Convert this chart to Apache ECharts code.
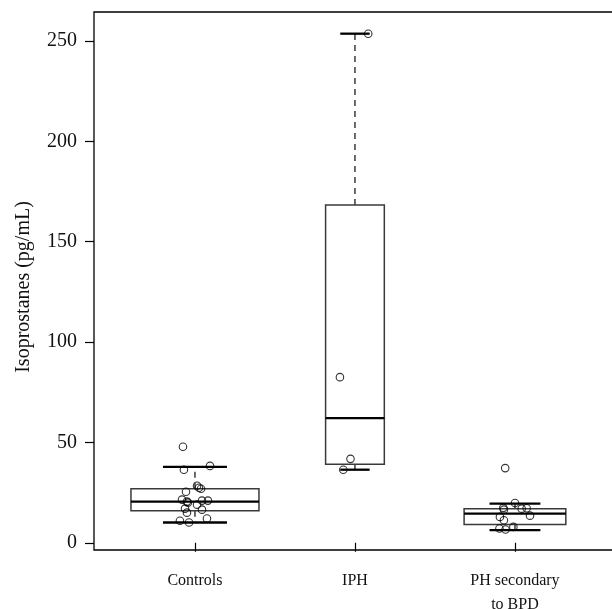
<!DOCTYPE html>
<html>
<head>
<meta charset="utf-8">
<script src="https://cdn.jsdelivr.net/npm/echarts@6/dist/echarts.min.js"></script>
<style>
  html, body { margin: 0; padding: 0; background: #fff; }
  #chart { width: 612px; height: 609px; }
</style>
</head>
<body>
<div id="chart"></div>
<script>
// groups on the x axis (placed at 1, 2, 3)
const groups = ['Controls', 'IPH', 'PH secondary\nto BPD'];
const yTicks = [0, 50, 100, 150, 200, 250];

// box statistics
const lowerWhisker = [10.1, 36.4, 6.3];
const q1 = [16.0, 39.1, 9.1];
const median = [20.5, 62.1, 14.5];
const q3 = [26.9, 168.2, 17.0];
const upperWhisker = [37.8, 253.6, 19.5];

// jittered raw points [x, value]
const controlsPts = [
  [0.925, 47.8], [0.931, 36.4], [1.094, 38.3], [1.013, 28.4], [1.025, 27.4],
  [1.038, 26.9], [0.944, 25.4], [0.919, 21.5], [0.95, 20.5], [0.956, 20.0],
  [1.044, 21.0], [1.081, 21.0], [1.013, 19.0], [0.938, 17.0], [0.95, 15.0],
  [1.044, 16.5], [0.906, 11.0], [0.963, 10.1], [1.075, 12.1]
];
const iphPts = [
  [2.083, 253.6], [1.906, 82.5], [1.972, 41.8], [1.927, 36.4]
];
const phPts = [
  [2.939, 37.2], [3.0, 19.8], [2.927, 17.4], [2.931, 16.5], [3.042, 17.0],
  [3.073, 17.2], [3.094, 13.5], [2.906, 12.9], [2.931, 11.2], [2.903, 7.1],
  [2.941, 6.6], [2.99, 7.9]
];

// varwidth: box width proportional to sqrt(n)
const counts = [controlsPts.length, iphPts.length, phPts.length];
const maxN = Math.max(...counts);

const boxData = groups.map((g, i) => [
  i + 1, lowerWhisker[i], q1[i], median[i], q3[i], upperWhisker[i],
  0.8 * Math.sqrt(counts[i] / maxN)
]);

const FONT = '"Liberation Serif", "DejaVu Serif", serif';

function renderBox(params, api) {
  const x = api.value(0);
  const hw = api.value(6) / 2;
  const lo = api.value(1), b1 = api.value(2), md = api.value(3), b3 = api.value(4), hi = api.value(5);
  const L = api.coord([x - hw, 0])[0];
  const R = api.coord([x + hw, 0])[0];
  const cl = api.coord([x - hw / 2, 0])[0];
  const cr = api.coord([x + hw / 2, 0])[0];
  const cx = api.coord([x, 0])[0];
  const y = v => api.coord([x, v])[1];
  const boxStyle = { stroke: '#3a3a3a', lineWidth: 1.5, fill: '#fff' };
  const dash = { stroke: '#3a3a3a', lineWidth: 1.5, lineDash: [6, 5] };
  const thick = { stroke: '#000', lineWidth: 2.3 };
  return {
    type: 'group',
    children: [
      { type: 'line', shape: { x1: cx, y1: y(b3), x2: cx, y2: y(hi) }, style: dash },
      { type: 'line', shape: { x1: cx, y1: y(b1), x2: cx, y2: y(lo) }, style: dash },
      { type: 'rect', shape: { x: L, y: y(b3), width: R - L, height: y(b1) - y(b3) }, style: boxStyle },
      { type: 'line', shape: { x1: L, y1: y(md), x2: R, y2: y(md) }, style: thick },
      { type: 'line', shape: { x1: cl, y1: y(hi), x2: cr, y2: y(hi) }, style: thick },
      { type: 'line', shape: { x1: cl, y1: y(lo), x2: cr, y2: y(lo) }, style: thick }
    ]
  };
}

const chart = echarts.init(document.getElementById('chart'), null, { renderer: 'canvas' });

const pointStyle = {
  type: 'scatter',
  symbol: 'circle',
  symbolSize: 7.5,
  z: 5,
  itemStyle: { color: 'rgba(0,0,0,0)', borderColor: '#000', borderWidth: 1.1 },
  silent: true
};

chart.setOption({
  animation: false,
  backgroundColor: '#fff',
  grid: {
    left: 94, top: 12, width: 540, height: 538,
    outerBoundsMode: 'none',
    containLabel: false,
    show: true, borderColor: '#000', borderWidth: 1.3, backgroundColor: 'transparent'
  },
  xAxis: {
    type: 'value',
    min: 0.369,
    max: 3.744,
    splitLine: { show: false },
    axisLine: { show: false },
    axisTick: { show: true, inside: false, length: 9, customValues: [1, 2, 3], lineStyle: { color: '#000', width: 1.2 } },
    axisLabel: {
      customValues: [1, 2, 3],
      formatter: v => groups[Math.round(v) - 1] || '',
      margin: 19,
      fontFamily: FONT,
      fontSize: 16,
      lineHeight: 24,
      color: '#111',
      verticalAlign: 'top'
    }
  },
  yAxis: {
    type: 'value',
    min: -3.6,
    max: 264.4,
    name: 'Isoprostanes (pg/mL)',
    nameLocation: 'middle',
    nameGap: 60,
    nameTextStyle: { fontFamily: FONT, fontSize: 20, color: '#111', padding: [0, 12, 0, 0] },
    splitLine: { show: false },
    axisLine: { show: false },
    axisTick: { show: true, inside: false, length: 9, customValues: yTicks, lineStyle: { color: '#000', width: 1.2 } },
    axisLabel: {
      customValues: yTicks,
      margin: 17,
      fontFamily: FONT,
      fontSize: 20,
      color: '#111'
    }
  },
  series: [
    {
      type: 'custom',
      renderItem: renderBox,
      data: boxData,
      encode: { x: 0, y: [1, 2, 3, 4, 5] },
      z: 2,
      silent: true
    },
    Object.assign({ data: controlsPts }, pointStyle),
    Object.assign({ data: iphPts }, pointStyle),
    Object.assign({ data: phPts }, pointStyle)
  ]
});
</script>
</body>
</html>
